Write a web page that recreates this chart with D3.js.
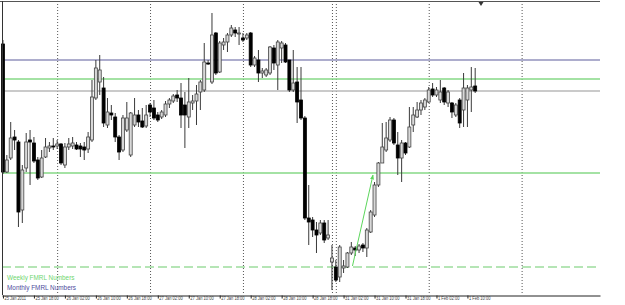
<!DOCTYPE html>
<html>
<head>
<meta charset="utf-8">
<script src="https://cdn.jsdelivr.net/npm/d3@7"></script>
<style>
  html, body { margin: 0; padding: 0; background: #fff; }
  svg { display: block; }
  text { font-family: "Liberation Sans", Arial, sans-serif; }
</style>
</head>
<body>
<div id="chart"></div>
<script>
// H1 bars, 25 Jan 2011 10:00 -> 1 Feb 2011 12:00 (index = bar number)
const opens = [
  1.3808,1.3680,1.3694,1.3715,1.3710,1.3642,1.3684,1.3712,1.3709,1.3692,
  1.3675,1.3695,1.3704,1.3706,1.3706,1.3708,1.3687,1.3705,1.3706,1.3707,
  1.3706,1.3705,1.3703,1.3712,1.3754,1.3770,1.3764,1.3727,1.3739,1.3735,
  1.3715,1.3702,1.3722,1.3697,1.3727,1.3737,1.3731,1.3726,1.3747,1.3744,
  1.3737,1.3735,1.3737,1.3748,1.3751,1.3757,1.3754,1.3747,1.3735,1.3749,
  1.3751,1.3760,1.3762,1.3789,1.3770,1.3819,1.3780,1.3807,1.3810,1.3817,
  1.3822,1.3818,1.3814,1.3814,1.3819,1.3787,1.3792,1.3779,1.3777,1.3779,
  1.3804,1.3787,1.3804,1.3807,1.3792,1.3762,1.3770,1.3752,1.3734,1.3634,
  1.3632,1.3622,1.3619,1.3629,1.3614,1.3590,1.3585,1.3575,1.3584,1.3585,
  1.3599,1.3604,1.3602,1.3607,1.3604,1.3620,1.3637,1.3667,1.3689,1.3702,
  1.3712,1.3732,1.3707,1.3694,1.3709,1.3705,1.3727,1.3735,1.3742,1.3745,
  1.3750,1.3763,1.3757,1.3752,1.3764,1.3749,1.3749,1.3737,1.3752,1.3742,
  1.3752,1.3762,1.3766
]
const highs = [
  1.3812,1.3697,1.3730,1.3722,1.3712,1.3687,1.3719,1.3722,1.3715,1.3695,
  1.3702,1.3714,1.3710,1.3714,1.3712,1.3709,1.3709,1.3714,1.3715,1.3710,
  1.3709,1.3710,1.3720,1.3772,1.3792,1.3797,1.3775,1.3754,1.3747,1.3739,
  1.3717,1.3737,1.3750,1.3740,1.3754,1.3742,1.3744,1.3747,1.3749,1.3752,
  1.3740,1.3742,1.3751,1.3754,1.3758,1.3762,1.3769,1.3760,1.3774,1.3757,
  1.3767,1.3772,1.3809,1.3792,1.3839,1.3820,1.3811,1.3814,1.3819,1.3827,
  1.3825,1.3825,1.3819,1.3819,1.3820,1.3796,1.3802,1.3784,1.3784,1.3806,
  1.3807,1.3812,1.3811,1.3809,1.3792,1.3802,1.3785,1.3785,1.3736,1.3667,
  1.3635,1.3630,1.3632,1.3632,1.3632,1.3607,1.3592,1.3607,1.3592,1.3600,
  1.3610,1.3606,1.3608,1.3609,1.3624,1.3642,1.3670,1.3690,1.3729,1.3730,
  1.3735,1.3734,1.3720,1.3712,1.3710,1.3745,1.3745,1.3750,1.3752,1.3754,
  1.3765,1.3769,1.3765,1.3772,1.3765,1.3762,1.3750,1.3749,1.3754,1.3779,
  1.3767,1.3785,1.3784
]
const lows = [
  1.3678,1.3679,1.3692,1.3702,1.3625,1.3629,1.3680,1.3667,1.3689,1.3672,
  1.3674,1.3694,1.3700,1.3702,1.3703,1.3687,1.3684,1.3702,1.3703,1.3702,
  1.3695,1.3692,1.3699,1.3710,1.3752,1.3757,1.3725,1.3724,1.3732,1.3710,
  1.3692,1.3700,1.3720,1.3695,1.3725,1.3725,1.3724,1.3724,1.3735,1.3732,
  1.3730,1.3733,1.3735,1.3744,1.3749,1.3750,1.3724,1.3704,1.3724,1.3742,
  1.3727,1.3742,1.3760,1.3787,1.3768,1.3777,1.3779,1.3802,1.3800,1.3815,
  1.3815,1.3807,1.3810,1.3812,1.3785,1.3785,1.3770,1.3774,1.3775,1.3777,
  1.3782,1.3762,1.3789,1.3789,1.3760,1.3760,1.3729,1.3732,1.3632,1.3607,
  1.3615,1.3599,1.3617,1.3609,1.3612,1.3562,1.3570,1.3570,1.3579,1.3584,
  1.3597,1.3596,1.3599,1.3600,1.3595,1.3619,1.3635,1.3665,1.3689,1.3700,
  1.3710,1.3707,1.3677,1.3670,1.3697,1.3704,1.3720,1.3734,1.3737,1.3742,
  1.3749,1.3755,1.3755,1.3749,1.3747,1.3745,1.3734,1.3735,1.3724,1.3725,
  1.3725,1.3740,1.3759
]
const closes = [
  1.3680,1.3692,1.3714,1.3712,1.3640,1.3682,1.3710,1.3710,1.3691,1.3674,
  1.3694,1.3705,1.3706,1.3705,1.3708,1.3689,1.3705,1.3708,1.3709,1.3703,
  1.3703,1.3702,1.3715,1.3755,1.3784,1.3782,1.3729,1.3740,1.3737,1.3715,
  1.3700,1.3734,1.3734,1.3739,1.3737,1.3730,1.3725,1.3737,1.3740,1.3734,
  1.3732,1.3740,1.3748,1.3752,1.3756,1.3754,1.3737,1.3737,1.3750,1.3751,
  1.3758,1.3770,1.3790,1.3788,1.3817,1.3779,1.3809,1.3810,1.3817,1.3824,
  1.3819,1.3819,1.3812,1.3817,1.3787,1.3794,1.3779,1.3781,1.3782,1.3805,
  1.3789,1.3810,1.3809,1.3790,1.3762,1.3769,1.3750,1.3734,1.3634,1.3630,
  1.3622,1.3617,1.3629,1.3612,1.3617,1.3594,1.3572,1.3605,1.3586,1.3599,
  1.3605,1.3602,1.3606,1.3604,1.3622,1.3640,1.3667,1.3689,1.3705,1.3714,
  1.3732,1.3709,1.3694,1.3709,1.3699,1.3725,1.3737,1.3742,1.3749,1.3752,
  1.3762,1.3757,1.3762,1.3760,1.3750,1.3760,1.3740,1.3747,1.3729,1.3764,
  1.3764,1.3765,1.3761
]

// time axis
const tickBars = [0, 8, 16, 24, 32, 40, 48, 56, 64, 72, 80, 88, 96, 104, 112, 120]
const tickLabels = ["25 Jan 2011", "25 Jan 18:00", "26 Jan 02:00", "26 Jan 10:00",
  "26 Jan 18:00", "27 Jan 02:00", "27 Jan 10:00", "27 Jan 18:00", "28 Jan 02:00",
  "28 Jan 10:00", "28 Jan 18:00", "31 Jan 02:00", "31 Jan 10:00", "31 Jan 18:00",
  "1 Feb 02:00", "1 Feb 10:00"]
// day separators (bar index of the new day)
const separatorBars = [14, 38, 62, 85, 86, 110, 134]

// FMRL levels
const monthlyLevels = [1.3792]
const weeklyLevels = [1.3773, 1.3679]
const weeklyDashed = [1.3585]
const bidPrice = closes[closes.length - 1]
// arrow: [bar, price] start and end
const arrowFrom = [90.3, 1.3586]
const arrowTo = [95.6, 1.3677]

const W = 625, H = 305
const pLeft = 2, pRight = 600, pTop = 1, pBottom = 295

const svg = d3.select("#chart").append("svg")
  .attr("width", W)
  .attr("height", H)
svg.append("rect").attr("width", W).attr("height", H).attr("fill", "#fff")

const x = d3.scaleLinear().domain([-0.25, 154.25]).range([pLeft, pRight])
const y = d3.scaleLinear().domain([1.3557, 1.3851]).range([pBottom, pTop])

// day separators
svg.append("g").selectAll("line")
  .data(separatorBars).enter().append("line")
  .attr("x1", d => x(d) + 0.5).attr("x2", d => x(d) + 0.5)
  .attr("y1", pTop).attr("y2", pBottom)
  .attr("stroke", "#555")
  .attr("stroke-width", 1)
  .attr("stroke-dasharray", "1,2")

// horizontal levels
const hline = (vals, color, w, dash) => {
  svg.append("g").selectAll("line")
    .data(vals).enter().append("line")
    .attr("x1", pLeft).attr("x2", pRight)
    .attr("y1", d => y(d)).attr("y2", d => y(d))
    .attr("stroke", color)
    .attr("stroke-width", w)
    .attr("stroke-dasharray", dash)
}
hline(monthlyLevels, "#5c5c9c", 1.2, null)
hline(weeklyLevels, "#86d886", 1.3, null)
hline([bidPrice], "#b8b8b8", 1.5, null)
hline(weeklyDashed, "#6ccc6c", 1.2, "9,4")

// candles
const bars = d3.range(opens.length)
const candles = svg.append("g").selectAll("g")
  .data(bars).enter().append("g")

candles.append("line")
  .attr("x1", i => x(i)).attr("x2", i => x(i))
  .attr("y1", i => y(highs[i])).attr("y2", i => y(lows[i]))
  .attr("stroke", "#3a3a3a")
  .attr("stroke-width", 1)

candles.append("rect")
  .attr("x", i => x(i) - 1.5)
  .attr("width", 3)
  .attr("y", i => y(Math.max(opens[i], closes[i])))
  .attr("height", i => Math.max(1, Math.abs(y(opens[i]) - y(closes[i]))))
  .attr("fill", i => closes[i] > opens[i] ? "#d8d8d8" : "#000")
  .attr("stroke", i => closes[i] > opens[i] ? "#444" : "#000")
  .attr("stroke-width", 0.8)

// arrow
svg.append("defs").append("marker")
  .attr("id", "ah")
  .attr("viewBox", "0 0 10 10")
  .attr("refX", 9).attr("refY", 5)
  .attr("markerWidth", 5).attr("markerHeight", 5)
  .attr("orient", "auto")
  .append("path").attr("d", "M0,1 L10,5 L0,9 Z").attr("fill", "#5cd65c")
svg.append("line")
  .attr("x1", x(arrowFrom[0])).attr("y1", y(arrowFrom[1]))
  .attr("x2", x(arrowTo[0])).attr("y2", y(arrowTo[1]))
  .attr("stroke", "#5cd65c")
  .attr("stroke-width", 1)
  .attr("marker-end", "url(#ah)")

// borders
svg.append("line").attr("x1", 0).attr("x2", pRight).attr("y1", pTop + 0.5).attr("y2", pTop + 0.5)
  .attr("stroke", "#555").attr("stroke-width", 1)
svg.append("line").attr("x1", pLeft + 0.5).attr("x2", pLeft + 0.5).attr("y1", pTop).attr("y2", pBottom)
  .attr("stroke", "#333").attr("stroke-width", 1)

// chart shift marker
const sx = x(123.5)
svg.append("path")
  .attr("d", `M${sx - 2.5},${pTop + 1} L${sx + 2.5},${pTop + 1} L${sx},${pTop + 5} Z`)
  .attr("fill", "#333")

// time axis
const xAxis = d3.axisBottom(x)
  .tickValues(tickBars)
  .tickFormat((d, i) => tickLabels[i])
  .tickSize(3)
  .tickSizeOuter(0)
const gx = svg.append("g")
  .attr("transform", `translate(0, ${pBottom + 0.5})`)
  .call(xAxis)
gx.select(".domain").attr("stroke", "#222")
gx.selectAll(".tick line").attr("stroke", "#222")
gx.selectAll(".tick text")
  .attr("text-anchor", "start")
  .attr("x", 1)
  .attr("y", 1)
  .attr("dy", "0.75em")
  .attr("fill", "#444")
  .attr("textLength", (d, i) => tickLabels[i].length * 1.95)
  .attr("lengthAdjust", "spacingAndGlyphs")
  .style("font-size", "4.8px")
  .style("font-family", "'Liberation Sans', Arial, sans-serif")

// legend
const legend = [
  { label: "Weekly FMRL Numbers", color: "#6fd66f" },
  { label: "Monthly FMRL Numbers", color: "#4d4d9d" }
]
svg.append("g").selectAll("text")
  .data(legend).enter().append("text")
  .attr("x", 7)
  .attr("y", (d, i) => 280 + i * 9.5)
  .attr("fill", d => d.color)
  .style("font-size", "6.4px")
  .text(d => d.label)
</script>
</body>
</html>
